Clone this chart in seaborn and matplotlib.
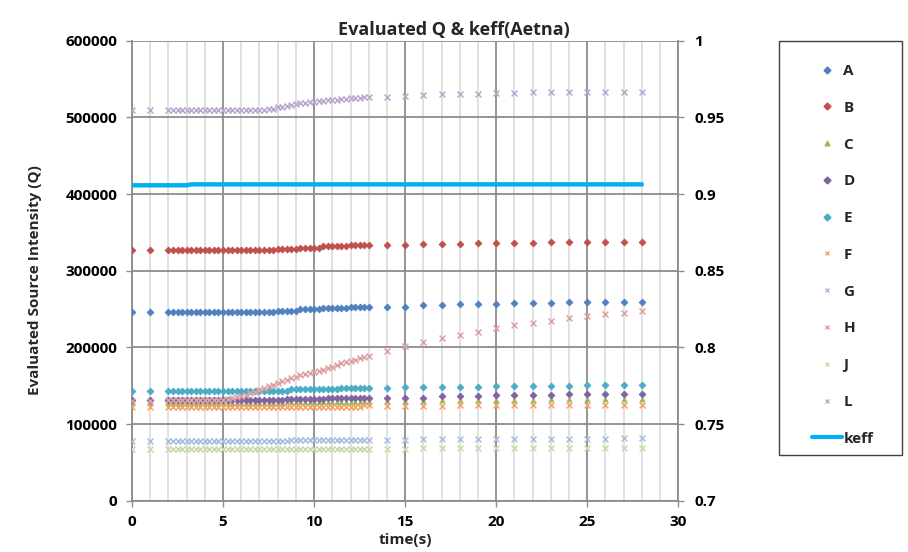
import numpy as np
import matplotlib
matplotlib.use("Agg")
import matplotlib.pyplot as plt
from matplotlib.lines import Line2D
from matplotlib.patches import Rectangle
from matplotlib.ticker import MultipleLocator, FuncFormatter
import seaborn as sns

# --- Data (Q values in thousands) ---
time_s = [0, 1,
          2.0, 2.25, 2.5, 2.75, 3.0, 3.25, 3.5, 3.75, 4.0,
          4.25, 4.5, 4.75, 5.0, 5.25, 5.5, 5.75, 6.0, 6.25,
          6.5, 6.75, 7.0, 7.25, 7.5, 7.75, 8.0, 8.25, 8.5,
          8.75, 9.0, 9.25, 9.5, 9.75, 10.0, 10.25, 10.5, 10.75,
          11.0, 11.25, 11.5, 11.75, 12.0, 12.25, 12.5, 12.75, 13.0,
          14, 15, 16, 17, 18, 19, 20, 21, 22, 23, 24, 25, 26, 27, 28]

q_A = [246, 246,
       246, 246, 246, 246, 246, 246, 246, 246, 246,
       246, 246, 246, 246, 246, 246, 246, 246, 246,
       246, 246, 246, 246, 246, 246, 248, 248, 248,
       248, 248, 249.5, 249.5, 249.5, 249.5, 249.5, 251, 251,
       251, 251, 251, 251, 252.5, 252.5, 252.5, 252.5, 252.5,
       253, 253, 255, 255, 256.3, 256.3, 256.3, 257.7, 257.7, 257.7, 259.4, 259.4, 259.4, 259.4, 259.4]

q_B = [327, 327,
       327, 327, 327, 327, 327, 327, 327, 327, 327,
       327, 327, 327, 327, 327, 327, 327, 327, 327,
       327, 327, 327, 327, 327, 327, 328.5, 328.5, 328.5,
       328.5, 328.5, 330, 330, 330, 330, 330, 331.8, 331.8,
       331.8, 331.8, 331.8, 331.8, 333.5, 333.5, 333.5, 333.5, 333.5,
       334, 334, 335.4, 335.4, 335.4, 336.7, 336.7, 336.7, 336.7, 338, 338, 338, 338, 338, 338]

q_C = [127.5, 127.5,
       127.5, 127.5, 127.5, 127.5, 127.5, 127.5, 127.5, 127.5, 127.5,
       127.5, 127.5, 127.5, 127.5, 127.5, 127.5, 127.5, 127.5, 127.5,
       127.5, 127.5, 127.5, 127.5, 127.5, 127.5, 127.5, 127.5, 128.5,
       128.5, 128.5, 128.5, 128.5, 128.5, 128.5, 128.5, 128.5, 128.5,
       128.5, 128.5, 128.5, 128.5, 128.5, 128.5, 128.5, 128.5, 128.5,
       130, 130, 130.5, 131, 131, 131.5, 131.5, 132, 132, 132.5, 132.5, 133, 133, 133, 133]

q_D = [131, 131,
       131, 131, 131, 131, 131, 131, 131, 131, 131,
       131, 131, 131, 131, 131, 131, 131, 131, 131,
       131, 131, 131, 131, 131, 131, 131, 131, 132.3,
       132.3, 132.3, 132.3, 132.3, 132.3, 132.3, 132.3, 132.3, 134,
       134, 134, 134, 134, 134, 134, 134, 134, 134,
       133.6, 134.5, 134.5, 136.7, 136.7, 136.7, 138, 138, 138, 138, 139.3, 139.3, 139.3, 139.3, 139.3]

q_E = [143.7, 143.7,
       143.7, 143.7, 143.7, 143.7, 143.7, 143.7, 143.7, 143.7, 143.7,
       143.7, 143.7, 143.7, 143.7, 143.7, 143.7, 143.7, 143.7, 143.7,
       143.7, 143.7, 143.7, 143.7, 143.7, 143.7, 143.7, 143.7, 143.7,
       145.2, 145.2, 145.2, 145.2, 145.2, 145.2, 145.2, 145.2, 145.2,
       145.2, 145.2, 147, 147, 147, 147, 147, 147, 147,
       146.7, 148, 148, 148, 148, 148, 149.8, 149.8, 149.8, 149.8, 149.8, 151.1, 151.1, 151.1, 151.1]

q_F = [122, 122,
       122, 122, 122, 122, 122, 122, 122, 122, 122,
       122, 122, 122, 122, 122, 122, 122, 122, 122,
       122, 122, 122, 122, 122, 122, 122, 122, 122,
       122, 122, 122, 122, 122, 122, 122, 122, 122,
       122, 122, 122, 122, 122, 122, 122, 124.5, 124.5,
       123.6, 123.6, 123.6, 123.6, 125.3, 125.3, 125.3, 125.3, 125.3, 125.3, 125.3, 125.3, 125.3, 125.3, 125.3]

q_G = [78, 78,
       78, 78, 78, 78, 78, 78, 78, 78, 78,
       78, 78, 78, 78, 78, 78, 78, 78, 78,
       78, 78, 78, 78, 78, 78, 78, 78, 78,
       79.5, 79.5, 79.5, 79.5, 79.5, 79.5, 79.5, 79.5, 79.5,
       79.5, 79.5, 79.5, 79.5, 79.5, 79.5, 79.5, 79.5, 79.5,
       79, 79, 80, 80, 80, 80, 80, 80, 80, 80, 80, 80, 80, 81.5, 81.5]

q_H = [129.5, 129.5,
       131, 131, 131, 131, 131, 131, 131, 131, 131,
       131, 131, 131, 131.5, 132.5, 134, 135.5, 137, 138.5,
       140, 142, 144, 146.5, 149, 151.5, 154, 156, 158,
       160, 162, 163.5, 165, 166.5, 168, 169.5, 171, 173,
       175, 177, 179, 180.5, 182, 184, 186, 187.5, 189,
       195.6, 201.7, 207.4, 211.8, 216.2, 220.5, 224.9, 229.2, 232.3, 234.9, 238, 240.6, 243.7, 245, 248]

q_J = [67.5, 67.5,
       67.5, 67.5, 67.5, 67.5, 67.5, 67.5, 67.5, 67.5, 67.5,
       67.5, 67.5, 67.5, 67.5, 67.5, 67.5, 67.5, 67.5, 67.5,
       67.5, 67.5, 67.5, 67.5, 67.5, 67.5, 67.5, 67.5, 67.5,
       67.5, 67.5, 67.5, 67.5, 67.5, 67.5, 67.5, 67.5, 67.5,
       67.5, 67.5, 67.5, 67.5, 67.5, 67.5, 67.5, 67.5, 67.5,
       67.2, 67.2, 68.5, 68.5, 68.5, 68.5, 68.5, 68.5, 68.5, 68.5, 68.5, 68.5, 68.5, 68.5, 68.5]

q_L = [510, 510,
       510, 510, 510, 510, 510, 510, 510, 510, 510,
       510, 510, 510, 510, 510, 510, 510, 510, 510,
       510, 510, 510, 510, 510.5, 511.5, 513, 514, 515.2,
       516.3, 517.3, 518.3, 519.3, 520, 520.6, 521.1, 521.6, 522,
       522.5, 523, 523.6, 524.2, 524.8, 525.3, 525.7, 526, 526.2,
       526.2, 528.3, 529.7, 530.6, 531, 531, 531.9, 531.9, 532.8, 532.8, 532.8, 533.6, 533.6, 533.6, 533.6]

keff = [0.9057, 0.9057,
        0.9057, 0.9057, 0.9057, 0.9057, 0.9057, 0.9063, 0.9063, 0.9063, 0.9063,
        0.9063, 0.9063, 0.9063, 0.9063, 0.9063, 0.9063, 0.9063, 0.9063, 0.9063,
        0.9063, 0.9063, 0.9063, 0.9063, 0.9063, 0.9063, 0.9063, 0.9063, 0.9063,
        0.9063, 0.9063, 0.9063, 0.9063, 0.9063, 0.9063, 0.9063, 0.9063, 0.9063,
        0.9063, 0.9063, 0.9063, 0.9063, 0.9063, 0.9063, 0.9063, 0.9063, 0.9063,
        0.9063, 0.9063, 0.9063, 0.9063, 0.9063, 0.9063, 0.9063, 0.9063, 0.9063, 0.9063, 0.9063, 0.9063, 0.9063, 0.9063, 0.9063]

series_names = ["A", "B", "C", "D", "E", "F", "G", "H", "J", "L"]
series_vals = [q_A, q_B, q_C, q_D, q_E, q_F, q_G, q_H, q_J, q_L]

# --- Styles ---
colors = {"A": "#4F81BD", "B": "#C0504D", "C": "#9BBB59", "D": "#8064A2", "E": "#4BACC6",
          "F": "#F4A46A", "G": "#A9BDE0", "H": "#DDA2A0", "J": "#C9DBA8", "L": "#B9A9CF"}
markers = {"A": "D", "B": "D", "C": "^", "D": "D", "E": "D",
           "F": "x", "G": "x", "H": "x", "J": "x", "L": "x"}
keff_color = "#00B0F0"
grid_dark = "#8C8C8C"
grid_light = "#DEDEDE"

sns.set_theme(style="white")
plt.rcParams["font.family"] = ["Open Sans", "DejaVu Sans"]
plt.rcParams["font.weight"] = "bold"

W, H = 908, 552
fig = plt.figure(figsize=(W / 100, H / 100), dpi=100)
ax = fig.add_axes([132 / W, 1 - 500.7 / H, (678.3 - 132) / W, (500.7 - 40.7) / H])

# --- Scatter series ---
for name, vals in zip(series_names, series_vals):
    y = np.array(vals) * 1000
    m = markers[name]
    if m == "x":
        sns.scatterplot(x=time_s, y=y, marker="x", color=colors[name], s=18,
                        linewidth=1.1, ax=ax, zorder=3, legend=False)
    else:
        sns.scatterplot(x=time_s, y=y, marker=m, color=colors[name], s=12,
                        edgecolor=colors[name], linewidth=0.6, ax=ax, zorder=3, legend=False)

ax.set_xlim(0, 30)
ax.set_ylim(0, 600000)
ax.xaxis.set_major_locator(MultipleLocator(5))
ax.xaxis.set_minor_locator(MultipleLocator(1))
ax.yaxis.set_major_locator(MultipleLocator(100000))
ax.yaxis.set_major_formatter(FuncFormatter(lambda v, p: f"{v:.0f}"))
ax.set_axisbelow(True)
ax.grid(which="minor", axis="x", color=grid_light, linewidth=1.3)
ax.grid(which="major", axis="both", color=grid_dark, linewidth=1.3)
ax.set_xlabel("")
ax.set_ylabel("")
for side in ["top", "right"]:
    ax.spines[side].set_visible(False)
for side in ["left", "bottom"]:
    ax.spines[side].set_color(grid_dark)
    ax.spines[side].set_linewidth(1.3)
ax.tick_params(which="major", bottom=True, left=True, direction="out", length=4.5,
               width=1, color=grid_dark, labelsize=11, labelcolor="black")
ax.tick_params(axis="x", which="major", pad=6)
ax.tick_params(axis="y", which="major", pad=6)
ax.tick_params(which="minor", length=0)

# --- keff on secondary axis ---
ax2 = ax.twinx()
sns.lineplot(x=time_s, y=keff, color=keff_color, linewidth=3.2, ax=ax2, zorder=4)
ax2.set_ylim(0.7, 1.0)
ax2.yaxis.set_major_locator(MultipleLocator(0.05))
ax2.yaxis.set_major_formatter(FuncFormatter(lambda v, p: f"{round(v, 2):g}"))
ax2.set_ylabel("")
ax2.grid(False)
for side in ["top", "left", "bottom"]:
    ax2.spines[side].set_visible(False)
ax2.spines["right"].set_color(grid_dark)
ax2.spines["right"].set_linewidth(1.3)
ax2.tick_params(axis="y", right=True, direction="out", length=4.5, width=1,
                color=grid_dark, labelsize=11, labelcolor="black", pad=7)

# --- Texts ---
fig.text(0.5, 1 - 30 / H, "Evaluated Q & keff(Aetna)", ha="center", va="center",
         fontsize=13, fontweight="bold")
fig.text(35 / W, 1 - 280 / H, "Evaluated Source Intensity (Q)", ha="center", va="center",
         rotation=90, fontsize=11, fontweight="bold")
fig.text(405 / W, 1 - 540 / H, "time(s)", ha="center", va="center",
         fontsize=11, fontweight="bold")

# --- Legend ---
handles = [Line2D([], [], linestyle="none", marker=markers[n], color=colors[n],
                  markersize=3.5, markeredgewidth=1) for n in series_names]
handles.append(Line2D([], [], color=keff_color, linewidth=3))
labels = series_names + ["keff"]
fig.add_artist(Rectangle((779 / W, 1 - 455 / H), (902 - 779) / W, (455 - 40.7) / H,
                         transform=fig.transFigure, fill=False, edgecolor="#404040", linewidth=1))
fig.legend(handles, labels, loc="upper left", bbox_to_anchor=(812 / W, 1 - 64 / H),
           frameon=False, handlelength=1.96, handletextpad=0.1, labelspacing=1.49,
           borderpad=0, borderaxespad=0, prop={"weight": "bold", "size": 11})

fig.savefig("out.png", dpi=100)
